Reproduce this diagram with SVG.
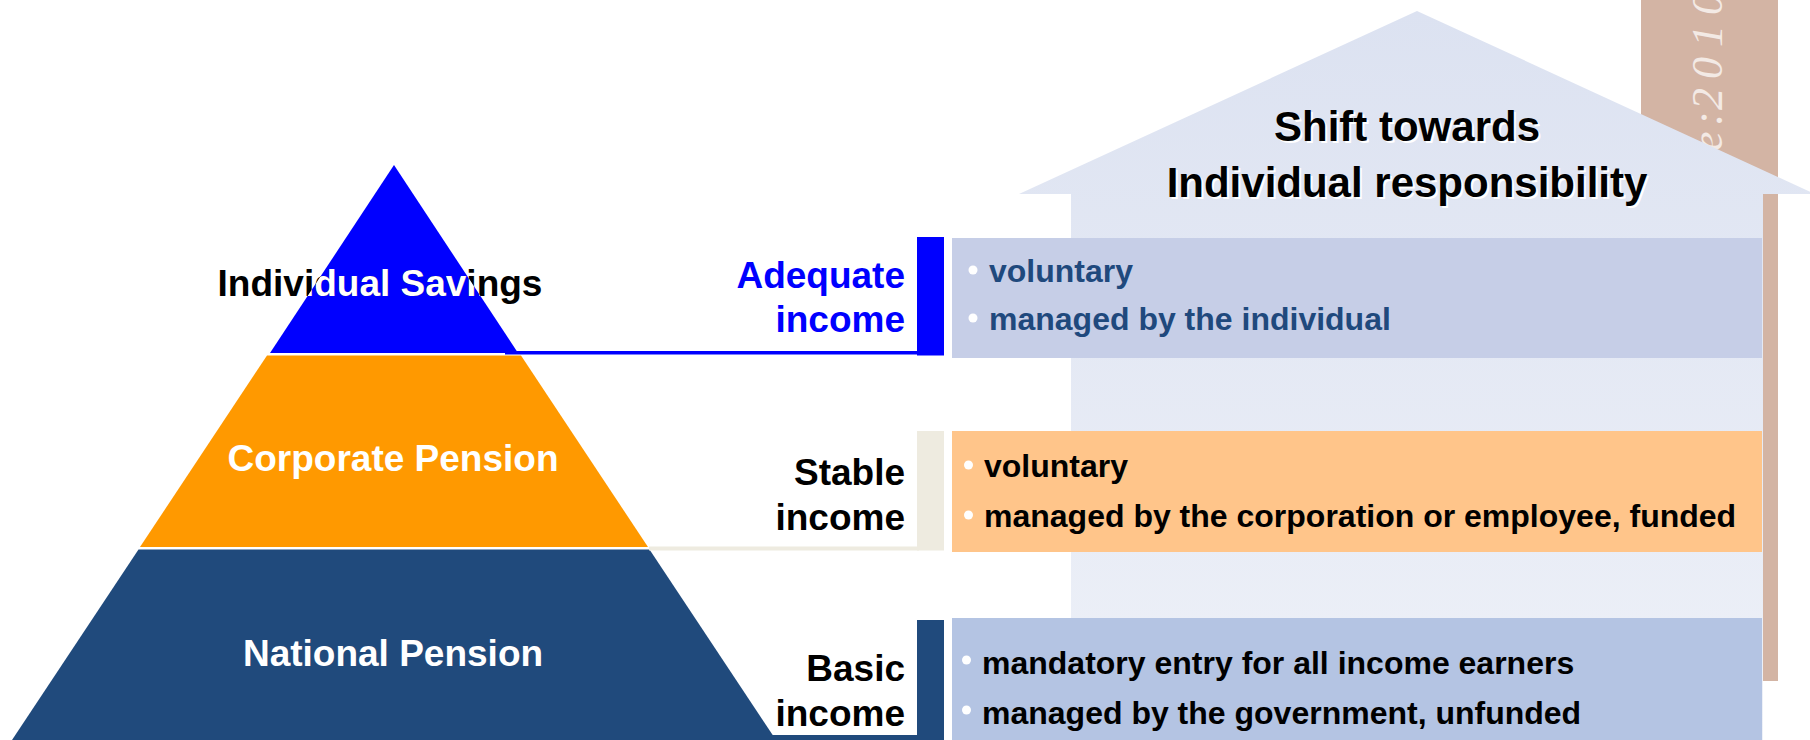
<svg xmlns="http://www.w3.org/2000/svg" width="1810" height="740" viewBox="0 0 1810 740">
  <style>
    .b { font-family: "Liberation Sans", Arial, sans-serif; font-weight: bold; }
    .lbl { font-size: 37px; }
    .item { font-size: 32px; }
    .head { font-size: 42px; text-anchor: middle; }
    .mid { text-anchor: middle; }
    .end { text-anchor: end; }
    .dot { fill: #ffffff; }
  </style>
  <defs>
    <linearGradient id="arrowFill" gradientUnits="userSpaceOnUse" x1="0" y1="11" x2="0" y2="740">
      <stop offset="0" stop-color="#DCE2F1"/>
      <stop offset="1" stop-color="#EEF1F8"/>
    </linearGradient>
    <clipPath id="topTri">
      <polygon points="394,165 518,353 270,353"/>
    </clipPath>
  </defs>

  <rect width="1810" height="740" fill="#ffffff"/>

  <!-- side strip with vertical caption -->
  <g id="side-strip">
    <rect x="1641" y="0" width="137" height="681" fill="#D3B4A4"/>
    <text transform="translate(1722,151) rotate(-90)" x="0 25 37 41 72 104 136" font-family="'Liberation Serif', 'Times New Roman', serif" font-style="italic" font-size="44" fill="#F3EAE5">e: 2010</text>
  </g>

  <!-- upward arrow -->
  <g id="shift-arrow">
    <polygon points="1417,11 1815,194 1763,194 1763,740 1071,740 1071,194 1019,194" fill="url(#arrowFill)"/>
    <g class="b head">
      <text x="1409" y="143" fill="#ffffff">Shift towards</text>
      <text x="1409" y="199" fill="#ffffff">Individual responsibility</text>
      <text x="1407" y="141" fill="#000000">Shift towards</text>
      <text x="1407" y="197" fill="#000000">Individual responsibility</text>
    </g>
  </g>

  <!-- pyramid tiers -->
  <g id="tier-individual-savings">
    <polygon points="394,165 518,353 270,353" fill="#0000FF"/>
    <text class="b lbl mid" x="380" y="296" fill="#000000">Individual Savings</text>
    <text class="b lbl mid" x="380" y="296" fill="#ffffff" clip-path="url(#topTri)">Individual Savings</text>
  </g>
  <g id="tier-corporate-pension">
    <polygon points="267,355.5 521,355.5 648,547 140,547" fill="#FF9900"/>
    <text class="b lbl mid" x="393" y="471" fill="#ffffff">Corporate Pension</text>
  </g>
  <g id="tier-national-pension">
    <polygon points="138.5,549.5 649.5,549.5 776,740 12,740" fill="#204A7C"/>
    <text class="b lbl mid" x="393" y="666" fill="#ffffff">National Pension</text>
  </g>

  <!-- connectors from each tier to its income bar -->
  <g id="connectors">
    <rect x="505" y="351" width="415" height="3.5" fill="#0000FF"/>
    <rect x="649" y="546.5" width="270" height="4" fill="#EEEBE0"/>
    <rect x="772" y="735" width="147" height="5" fill="#204A7C"/>
  </g>

  <!-- income bars and labels -->
  <g id="income-adequate">
    <rect x="917" y="237" width="27" height="118.5" fill="#0000FF"/>
    <g class="b lbl end" fill="#0000FF">
      <text x="905" y="288">Adequate</text>
      <text x="905" y="332">income</text>
    </g>
  </g>
  <g id="income-stable">
    <rect x="917" y="431" width="27" height="119.5" fill="#EEEBE0"/>
    <g class="b lbl end" fill="#000000">
      <text x="905" y="485">Stable</text>
      <text x="905" y="530">income</text>
    </g>
  </g>
  <g id="income-basic">
    <rect x="917" y="620" width="27" height="120" fill="#204A7C"/>
    <g class="b lbl end" fill="#000000">
      <text x="905" y="681">Basic</text>
      <text x="905" y="726">income</text>
    </g>
  </g>

  <!-- characteristic boxes -->
  <g id="box-individual">
    <rect x="952" y="238" width="810" height="120" fill="#C6CEE7"/>
    <circle class="dot" cx="973" cy="270" r="4.5"/>
    <circle class="dot" cx="973" cy="318" r="4.5"/>
    <g class="b item" fill="#1F497D">
      <text x="989" y="282">voluntary</text>
      <text x="989" y="330">managed by the individual</text>
    </g>
  </g>
  <g id="box-corporate">
    <rect x="952" y="431" width="810" height="121" fill="#FFC58A"/>
    <circle class="dot" cx="968.5" cy="465" r="4.5"/>
    <circle class="dot" cx="968.5" cy="515" r="4.5"/>
    <g class="b item" fill="#000000">
      <text x="984" y="477">voluntary</text>
      <text x="984" y="527">managed by the corporation or employee, funded</text>
    </g>
  </g>
  <g id="box-national">
    <rect x="952" y="618" width="810" height="122" fill="#B4C4E3"/>
    <circle class="dot" cx="966.5" cy="660" r="4.5"/>
    <circle class="dot" cx="966.5" cy="710" r="4.5"/>
    <g class="b item" fill="#000000">
      <text x="982" y="674">mandatory entry for all income earners</text>
      <text x="982" y="724">managed by the government, unfunded</text>
    </g>
  </g>
</svg>
